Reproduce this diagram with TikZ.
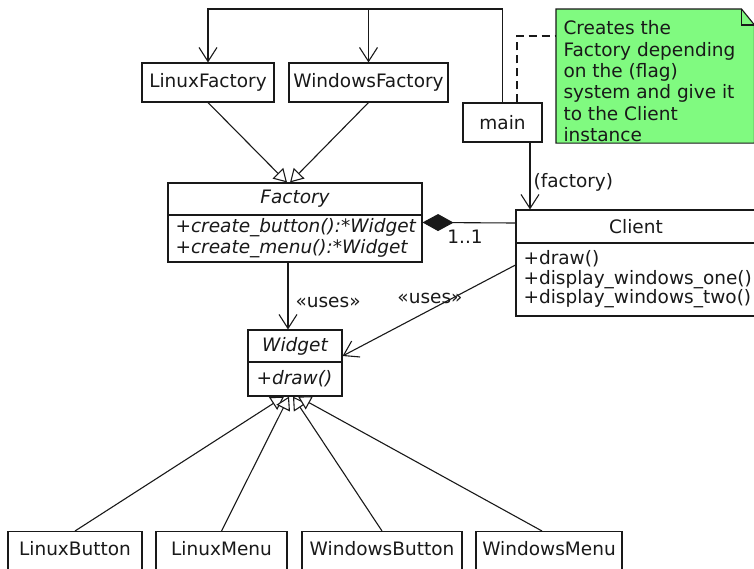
\documentclass[tikz,border=0pt]{standalone}
\usepackage{fontspec}
\setmainfont{DejaVu Sans}
\usetikzlibrary{arrows.meta}
\definecolor{notegreen}{RGB}{128,250,128}
\definecolor{ink}{RGB}{25,25,25}
\tikzset{
  base/.style={font=\fontsize{18.5}{20}\selectfont, inner sep=0pt},
  box/.style={base, draw, rectangle, fill=white},
  hd/.style={box, align=center},
  meth/.style={box, align=left, inner xsep=7.5pt},
  open/.style={-{Straight Barb[length=14pt,width=18pt]}},
  gen/.style={-{Triangle[open,length=13pt,width=15pt,fill=white]}},
  comp/.style={{Diamond[length=31pt,width=17pt]}-},
  bottombox/.style={box, anchor=north, text height=24pt, text depth=40pt, inner ysep=0pt},
}
\begin{document}
\begin{tikzpicture}[x=1pt,y=-1pt,line width=1.1pt,color=ink]
\useasboundingbox (0,0) rectangle (754,568);
\clip (0,0) rectangle (754,568);

% note
\node[base, anchor=north west, minimum width=197.4pt, minimum height=133pt] (notebox) at (556,9) {};
\draw[fill=notegreen] (notebox.north west) -- ([xshift=-13pt]notebox.north east)
  -- ([yshift=-16pt]notebox.north east) -- (notebox.south east) -- (notebox.south west) -- cycle;
\draw ([xshift=-13pt]notebox.north east) |- ([yshift=-16pt]notebox.north east);
\node[base, anchor=north west, align=left, font=\fontsize{18.5}{21.4}\selectfont] (notetxt) at (563,20)
  {Creates the\\Factory depending\\on the (flag)\\system and give it\\to the Client\\instance};

% top classes
\node[hd, minimum width=132pt, minimum height=39pt] (lf) at (208,82.5) {LinuxFactory};
\node[hd, minimum width=159pt, minimum height=39pt] (wf) at (368.5,82.5) {WindowsFactory};
\node[hd, minimum width=79pt, minimum height=39pt] (main) at (502.5,122.5) {main};

% Factory
\node[hd, minimum width=254pt, minimum height=32pt, font=\fontsize{18.5}{20}\selectfont\itshape] (fh) at (295,199) {Factory};
\node[meth, text width=239pt, minimum height=47pt, font=\fontsize{18.5}{21}\selectfont\itshape] (fm) at (295,238.5)
  {+create\_button():*Widget\\+create\_menu():*Widget};

% Client
\node[hd, minimum width=240pt, minimum height=33pt] (ch) at (636,226.5) {Client};
\node[meth, text width=225pt, minimum height=73pt, font=\fontsize{18.5}{19.5}\selectfont] (cm) at (636,279.5)
  {+draw()\\+display\_windows\_one()\\+display\_windows\_two()};

% Widget
\node[hd, minimum width=94pt, minimum height=32pt, font=\fontsize{18.5}{20}\selectfont\itshape] (wgh) at (295,346) {Widget};
\node[meth, text width=77pt, inner xsep=8.5pt, minimum height=34pt, font=\fontsize{18.5}{20}\selectfont\itshape] (wgm) at (295,379) {+draw()};

% bottom classes
\node[bottombox, minimum width=134pt] (lb) at (75,531) {LinuxButton};
\node[bottombox, minimum width=131pt] (lm) at (221.5,531) {LinuxMenu};
\node[bottombox, minimum width=160pt] (wb) at (382,531) {WindowsButton};
\node[bottombox, minimum width=146pt] (wmenu) at (549,531) {WindowsMenu};

% main -> factories
\coordinate (topL) at (208,9);
\coordinate (topW) at (368.5,9);
\draw[open] (main.north) |- (topL) -- (lf.north);
\draw[open] (topW) -- (wf.north);

% note link
\draw[dashed, dash pattern=on 8pt off 5pt, line width=1.1pt] ([xshift=14.5pt]main.north) |- ([yshift=-27pt]notebox.north west);

% main -> Client
\draw[open] ([xshift=27.5pt]main.south) -- ([xshift=-106pt]ch.north);
\node[base, anchor=west] (flab) at (533,182) {(factory)};

% composition
\draw[comp] ([yshift=-8pt]fm.north east) -- ([yshift=3.5pt]ch.west);
\node[base] (mult) at (465,236.5) {1..1};

% uses
\draw[open] ([xshift=-7pt]fm.south) -- ([xshift=-7pt]wgh.north);
\node[base, anchor=west] (uses1) at (295,302) {«uses»};
\draw[open] ([yshift=14.5pt]cm.west) -- ([yshift=-10pt]wgh.east);
\node[base] (uses2) at (430,298) {«uses»};

% generalizations
\draw[gen] (lf.south) -- ([xshift=-8pt]fh.north);
\draw[gen] (wf.south) -- ([xshift=-5pt]fh.north);
\draw[gen] (lb.north) -- ([xshift=-11pt]wgm.south);
\draw[gen] (lm.north) -- ([xshift=-6pt]wgm.south);
\draw[gen] (wb.north) -- ([xshift=-2pt]wgm.south);
\draw[gen] ([xshift=-7pt]wmenu.north) -- ([xshift=3pt]wgm.south);
\end{tikzpicture}
\end{document}
